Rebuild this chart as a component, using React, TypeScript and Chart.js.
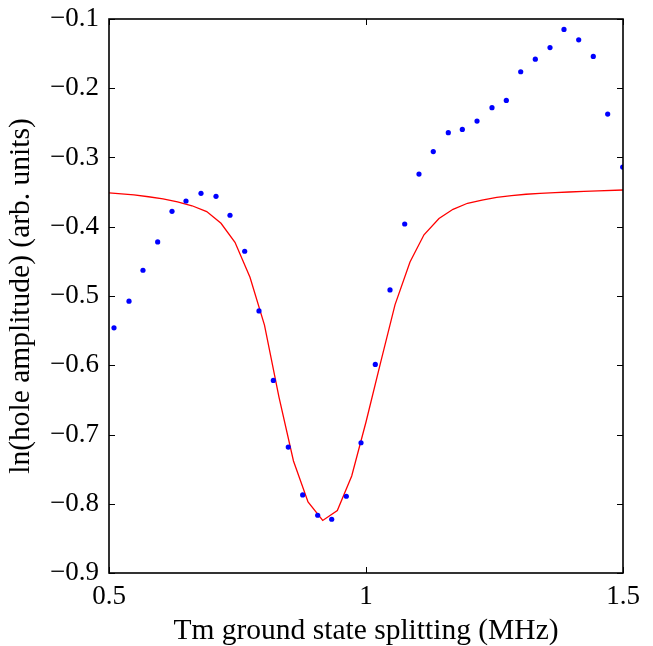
import React, { useEffect, useRef } from "react";
import { Chart, registerables } from "chart.js";

Chart.register(...registerables);

const dataX = [
  0.5097, 0.5389, 0.5661, 0.5947, 0.6226, 0.6498, 0.679, 0.7082, 0.7354, 0.764,
  0.7918, 0.8197, 0.8488, 0.8768, 0.906, 0.9333, 0.9617, 0.9903, 1.0181, 1.0467,
  1.0753, 1.1031, 1.1309, 1.1601, 1.1874, 1.216, 1.2451, 1.273, 1.301, 1.3294,
  1.358, 1.3852, 1.4138, 1.4422, 1.4702, 1.4994,
];
const dataY = [
  -0.546, -0.5075, -0.4628, -0.4219, -0.3777, -0.3628, -0.3517, -0.356, -0.3834, -0.4354,
  -0.5215, -0.6219, -0.7181, -0.7873, -0.8166, -0.8224, -0.7892, -0.7119, -0.5988, -0.4912,
  -0.396, -0.3239, -0.2915, -0.2641, -0.2594, -0.2474, -0.2281, -0.2176, -0.1762, -0.158,
  -0.1413, -0.1151, -0.13, -0.1541, -0.2373, -0.3138,
];
const fitX = [
  0.5, 0.5486, 0.5768, 0.6051, 0.6333, 0.6615, 0.6901, 0.7179, 0.7451, 0.7743,
  0.8025, 0.8307, 0.8589, 0.8872, 0.9158, 0.9442, 0.9722, 1.0, 1.0286, 1.0564,
  1.0856, 1.1128, 1.142, 1.1693, 1.1975, 1.2257, 1.2543, 1.2831, 1.3113, 1.3385,
  1.3677, 1.3949, 1.4241, 1.4514, 1.5,
];
const fitY = [
  -0.351, -0.3539, -0.3567, -0.3596, -0.364, -0.3697, -0.3781, -0.395, -0.4224, -0.4729,
  -0.5421, -0.6459, -0.7382, -0.7974, -0.8241, -0.8097, -0.7599, -0.682, -0.5955, -0.5128,
  -0.4508, -0.4116, -0.3882, -0.3748, -0.3661, -0.3614, -0.3575, -0.355, -0.3531, -0.3517,
  -0.3507, -0.3498, -0.3488, -0.3481, -0.3469,
];
const xTicks = [0.5, 1, 1.5];
const yTicks = [-0.9, -0.8, -0.7, -0.6, -0.5, -0.4, -0.3, -0.2, -0.1];
const xTitle = "Tm ground state splitting (MHz)";
const yTitle = "ln(hole amplitude) (arb. units)";

const FONT = "'Liberation Serif', serif";

const fmt = (v: number) => {
  if (Math.abs(v - Math.round(v)) < 1e-9) return String(Math.round(v));
  const s = Math.abs(v).toFixed(1);
  return (v < 0 ? "\u2212" : "") + s;
};

const framePlugin = {
  id: "frameTicks",
  afterDatasetsDraw(chart: any) {
    const { ctx, chartArea } = chart;
    const { left, right, top, bottom } = chartArea;
    const xs = chart.scales.x;
    const ys = chart.scales.y;
    const tl = 6;
    ctx.save();
    ctx.strokeStyle = "#000";
    ctx.lineWidth = 1;
    xTicks.forEach((t) => {
      const px = Math.round(xs.getPixelForValue(t)) + 0.5;
      ctx.beginPath();
      ctx.moveTo(px, bottom);
      ctx.lineTo(px, bottom - tl);
      ctx.moveTo(px, top);
      ctx.lineTo(px, top + tl);
      ctx.stroke();
    });
    yTicks.forEach((t) => {
      const py = Math.round(ys.getPixelForValue(t)) + 0.5;
      ctx.beginPath();
      ctx.moveTo(left, py);
      ctx.lineTo(left + tl, py);
      ctx.moveTo(right, py);
      ctx.lineTo(right - tl, py);
      ctx.stroke();
    });
    ctx.lineWidth = 1.6;
    ctx.strokeRect(left, top, right - left, bottom - top);
    ctx.restore();
  },
};

export default function App() {
  const ref = useRef<HTMLCanvasElement>(null);
  useEffect(() => {
    document.body.style.margin = "0";
    const canvas = ref.current!;
    const chart = new Chart(canvas, {
      type: "scatter",
      data: {
        datasets: [
          {
            data: fitX.map((x, i) => ({ x, y: fitY[i] })),
            showLine: true,
            borderColor: "#ff0000",
            borderWidth: 1.3,
            pointRadius: 0,
            tension: 0,
            order: 2,
          },
          {
            data: dataX.map((x, i) => ({ x, y: dataY[i] })),
            showLine: false,
            backgroundColor: "#0000ff",
            borderColor: "#0000ff",
            borderWidth: 0,
            pointRadius: 2.6,
            order: 1,
          },
        ],
      },
      options: {
        animation: false,
        responsive: false,
        devicePixelRatio: 1,
        layout: { padding: { left: 0, right: 30, top: 19, bottom: 0 } },
        plugins: { legend: { display: false }, tooltip: { enabled: false } },
        scales: {
          x: {
            type: "linear",
            min: 0.5,
            max: 1.5,
            afterBuildTicks: (s: any) => {
              s.ticks = xTicks.map((v) => ({ value: v }));
            },
            afterFit: (s: any) => {
              s.height = 73;
              s.paddingLeft = 0;
              s.paddingRight = 0;
            },
            grid: { display: false, drawTicks: false },
            border: { display: false },
            ticks: {
              color: "#000",
              font: { family: FONT, size: 27 },
              padding: 8,
              maxRotation: 0,
              autoSkip: false,
              callback: (v: any) => fmt(Number(v)),
            },
            title: {
              display: true,
              text: xTitle,
              color: "#000",
              font: { family: FONT, size: 29.5 },
              padding: { top: 0, bottom: -3 },
            },
          },
          y: {
            type: "linear",
            min: -0.9,
            max: -0.1,
            afterBuildTicks: (s: any) => {
              s.ticks = yTicks.map((v) => ({ value: v }));
            },
            afterFit: (s: any) => {
              s.width = 109;
              s.paddingTop = 0;
              s.paddingBottom = 0;
            },
            grid: { display: false, drawTicks: false },
            border: { display: false },
            ticks: {
              color: "#000",
              font: { family: FONT, size: 27 },
              padding: 10,
              autoSkip: false,
              callback: (v: any) => fmt(Number(v)),
            },
            title: {
              display: true,
              text: yTitle,
              color: "#000",
              font: { family: FONT, size: 29.5 },
              padding: { top: 4, bottom: 0 },
            },
          },
        },
      },
      plugins: [framePlugin],
    });
    return () => chart.destroy();
  }, []);
  return (
    <div style={{ width: 653, height: 646 }}>
      <canvas ref={ref} width={653} height={646} style={{ width: 653, height: 646, display: "block" }} />
    </div>
  );
}
